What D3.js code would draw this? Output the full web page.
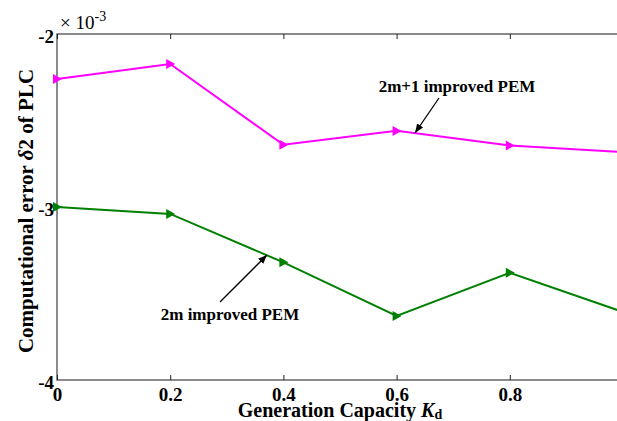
<!DOCTYPE html>
<html><head><meta charset="utf-8">
<script src="https://cdn.jsdelivr.net/npm/d3@7"></script>
<style>body{margin:0;background:#fff}svg{display:block}</style>
</head><body>
<script>
const xValues = [0, 0.2, 0.4, 0.6, 0.8, 1.0];
const series2m1 = [-2.26, -2.173, -2.64, -2.56, -2.645, -2.683];
const series2m = [-3.0, -3.04, -3.32, -3.63, -3.38, -3.607];
const xTicks = [0, 0.2, 0.4, 0.6, 0.8];
const yTicks = [-2, -3, -4];

const FONT = "'Liberation Serif', 'Times New Roman', Times, serif";
const W = 617, H = 421;
const svg = d3.select("body").append("svg").attr("width", W).attr("height", H);
const L = 57, R = 623, T = 34, B = 380;
const x = d3.scaleLinear().domain([0, 1]).range([L, R]);
const y = d3.scaleLinear().domain([-4, -2]).range([B, T]);

const axisCol = "#666";
svg.append("rect").attr("x", L).attr("y", T).attr("width", R - L).attr("height", B - T)
  .attr("fill", "none").attr("stroke", axisCol).attr("stroke-width", 1.5);

const gx = svg.append("g").attr("transform", `translate(0,${B})`)
  .call(d3.axisBottom(x).tickValues(xTicks).tickSizeInner(-5).tickSizeOuter(0).tickPadding(8).tickFormat(d => d === 0 ? "0" : d3.format(".1f")(d)));
gx.select(".domain").remove();
gx.selectAll("line").attr("stroke", "#222");
gx.selectAll("text").attr("font-size", 19).attr("font-weight", "bold").attr("fill", "#000");
const gt = svg.append("g").attr("transform", `translate(0,${T})`)
  .call(d3.axisTop(x).tickValues(xTicks).tickSizeInner(-5).tickSizeOuter(0).tickFormat(""));
gt.select(".domain").remove();
gt.selectAll("line").attr("stroke", "#222");

const gy = svg.append("g").attr("transform", `translate(${L},0)`)
  .call(d3.axisLeft(y).tickValues(yTicks).tickSizeInner(0).tickSizeOuter(0).tickPadding(3).tickFormat(d => String(d)));
gy.select(".domain").remove();
gy.selectAll("text").attr("font-size", 19).attr("font-weight", "bold").attr("fill", "#000").attr("dy", "0.45em");

const ex = svg.append("text").attr("x", 60).attr("y", 29).attr("font-size", 19).attr("fill", "#000");
ex.append("tspan").text("× 10");
ex.append("tspan").attr("dy", -8).attr("font-size", 14).text("-3");

const xl = svg.append("text").attr("x", 340).attr("y", 417).attr("text-anchor", "middle")
  .attr("font-size", 20).attr("font-weight", "bold").attr("fill", "#000");
xl.append("tspan").text("Generation Capacity ");
xl.append("tspan").attr("font-style", "italic").text("K");
xl.append("tspan").attr("font-size", 14).attr("dy", 2).text("d");

const yl = svg.append("text").attr("transform", `translate(33,${211}) rotate(-90)`).attr("text-anchor", "middle")
  .attr("font-size", 21).attr("font-weight", "bold").attr("fill", "#000");
yl.append("tspan").text("Computational error ");
yl.append("tspan").attr("font-style", "italic").text("δ");
yl.append("tspan").text("2 of PLC");

svg.append("defs").append("clipPath").attr("id", "c")
  .append("rect").attr("x", L - 10).attr("y", T - 10).attr("width", R - L + 20).attr("height", B - T + 20);
const line = d3.line().x((d, i) => x(xValues[i])).y(d => y(d));
const plot = svg.append("g").attr("clip-path", "url(#c)");
[[series2m1, "#ff00ff"], [series2m, "#008000"]].forEach(([s, c]) => {
  plot.append("path").datum(s).attr("d", line).attr("fill", "none").attr("stroke", c).attr("stroke-width", 2);
  plot.selectAll(null).data(s).enter().append("path")
    .attr("d", "M-4,-5L5,0L-4,5Z")
    .attr("transform", (d, i) => `translate(${x(xValues[i])},${y(d)})`)
    .attr("fill", c);
});

svg.append("defs").append("marker").attr("id", "ah").attr("viewBox", "0 0 10 10").attr("refX", 10).attr("refY", 5)
  .attr("markerWidth", 7).attr("markerHeight", 7).attr("orient", "auto")
  .append("path").attr("d", "M0,1L10,5L0,9Z").attr("fill", "#000");
svg.append("line").attr("x1", 439).attr("y1", 98).attr("x2", 415).attr("y2", 133)
  .attr("stroke", "#000").attr("stroke-width", 1.3).attr("marker-end", "url(#ah)");
svg.append("text").attr("x", 457).attr("y", 92).attr("text-anchor", "middle").attr("font-size", 17).attr("font-weight", "bold").text("2m+1 improved PEM");
svg.append("line").attr("x1", 220).attr("y1", 302).attr("x2", 267).attr("y2", 255)
  .attr("stroke", "#000").attr("stroke-width", 1.3).attr("marker-end", "url(#ah)");
svg.append("text").attr("x", 230).attr("y", 320).attr("text-anchor", "middle").attr("font-size", 17).attr("font-weight", "bold").text("2m improved PEM");

svg.selectAll("text").style("font-family", FONT);
svg.selectAll("g").attr("font-family", null);
</script>
</body></html>
